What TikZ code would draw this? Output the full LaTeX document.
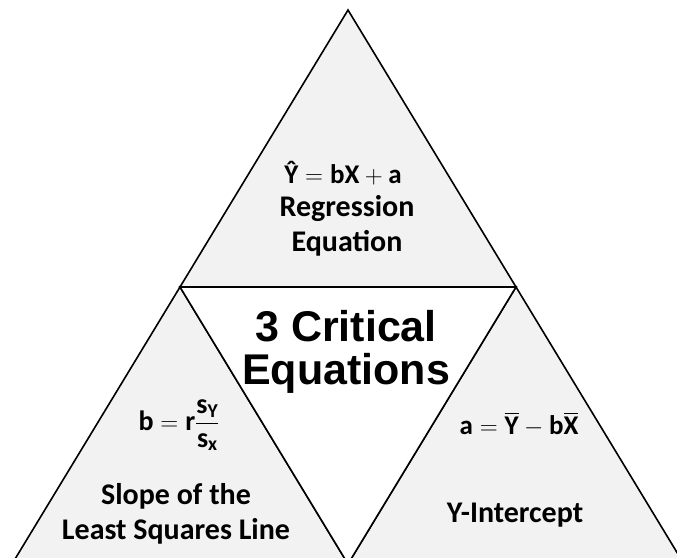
\documentclass[tikz,border=0pt]{standalone}
\usepackage{amsmath}
\usepackage{fontspec}
\setmainfont{Carlito}
\newfontfamily\headfont{Liberation Sans}
\usepackage{tikz}
\usetikzlibrary{positioning}
\definecolor{panelgray}{RGB}{242,242,242}

\begin{document}
\begin{tikzpicture}[x=1pt, y=-1pt,
    panel/.style={draw, line width=1.6pt, line join=miter, fill=panelgray},
    hole/.style={draw, line width=1.6pt, line join=miter, fill=white},
    txt/.style={font=\fontsize{30}{35}\selectfont\bfseries, align=center, inner sep=0pt},
    eq/.style={font=\fontsize{27}{30}\selectfont\bfseries, inner sep=0pt},
    headline/.style={font=\fontsize{43}{43}\selectfont\headfont\bfseries, align=center, inner sep=0pt}
]
\useasboundingbox (0,0) rectangle (677,557);
\clip (0,0) rectangle (677,557);

\coordinate (apex) at (348,10);
\coordinate (lm) at (180,287);
\coordinate (rm) at (516,287);
\coordinate (bl) at (12,564);
\coordinate (bm) at (348,564);
\coordinate (br) at (684,564);
 
\filldraw[panel] (apex) -- (lm) -- (rm) -- cycle;
\filldraw[panel] (lm) -- (bl) -- (bm) -- cycle;
\filldraw[panel] (rm) -- (bm) -- (br) -- cycle;
\filldraw[hole] (lm) -- (rm) -- (bm) -- cycle;
 
\node[eq, anchor=base] (regeq) at (343,183) {$\text{\^Y} = \text{bX} + \text{a}$};
\node[txt] (reg) at (347,226) {Regression\\Equation};
 
\node[headline] (title) at (346,352) {3 Critical\\Equations};
 
\node[eq, anchor=base, font=\fontsize{28}{30}\selectfont\bfseries] (slopeeq) at (179,430) {$\text{b} = \text{r}\dfrac{\text{s}_{\text{Y}}}{\rule{0pt}{19pt}\text{s}_{\text{x}}}$};
\node[txt] (slope) at (176,514) {Slope of the\\Least Squares Line};
 
\node[eq, anchor=base] (intereq) at (519,434) {$\text{a} = \overline{\text{Y}} - \text{b}\overline{\text{X}}$};
\node[txt, anchor=base] (inter) at (515,522) {Y-Intercept};
\end{tikzpicture}
\end{document}
